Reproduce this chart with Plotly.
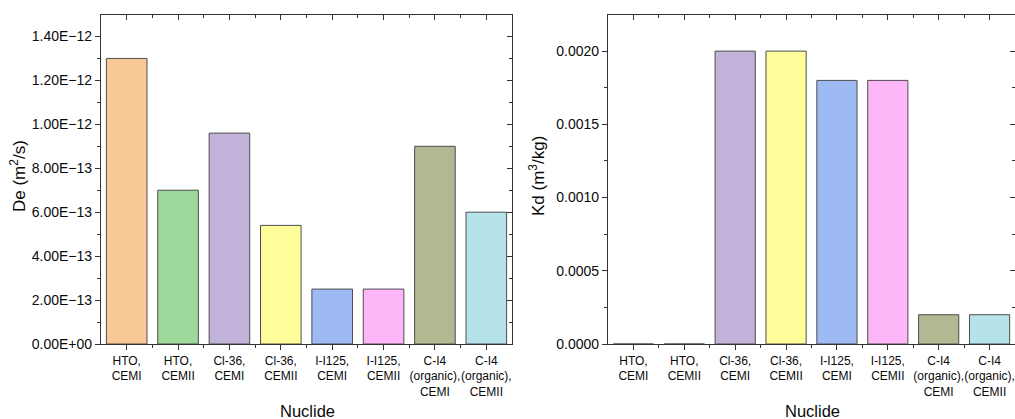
import plotly.graph_objects as go

categories = ["HTO,<br>CEMI", "HTO,<br>CEMII", "Cl-36,<br>CEMI", "Cl-36,<br>CEMII",
              "I-I125,<br>CEMI", "I-I125,<br>CEMII", "C-I4<br>(organic),<br>CEMI",
              "C-I4<br>(organic),<br>CEMII"]
de_values = [1.30e-12, 0.70e-12, 0.96e-12, 0.54e-12, 0.25e-12, 0.25e-12, 0.90e-12, 0.60e-12]
kd_values = [0.0, 0.0, 0.0020, 0.0020, 0.0018, 0.0018, 0.0002, 0.0002]
bar_colors = ["#F9C897", "#9ED89B", "#C1B2D9", "#FFFD99", "#9DBBF2", "#FDB7F8", "#B3B792", "#B5E3E9"]

de_tickvals = [0, 2e-13, 4e-13, 6e-13, 8e-13, 1e-12, 1.2e-12, 1.4e-12]
de_ticktext = ["0.00E+00", "2.00E\u221213", "4.00E\u221213", "6.00E\u221213", "8.00E\u221213",
               "1.00E\u221212", "1.20E\u221212", "1.40E\u221212"]
de_minor = [1e-13, 3e-13, 5e-13, 7e-13, 9e-13, 1.1e-12, 1.3e-12]
kd_tickvals = [0, 0.0005, 0.0010, 0.0015, 0.0020]
kd_ticktext = ["0.0000", "0.0005", "0.0010", "0.0015", "0.0020"]
kd_minor = [0.00025, 0.00075, 0.00125, 0.00175]

idx = list(range(len(categories)))
x_minor = [i + 0.5 for i in range(len(categories) - 1)]

W, H = 1015, 419
font_family = "Liberation Sans, Arial, sans-serif"
line_col = "#333333"
bar_line = "#4d4d4d"
txt = "#0a0a0a"

fig = go.Figure()
fig.add_trace(go.Bar(x=idx, y=de_values, marker=dict(color=bar_colors, line=dict(color=bar_line, width=1)),
                     width=0.79, xaxis="x", yaxis="y", showlegend=False))
fig.add_trace(go.Bar(x=idx, y=kd_values, marker=dict(color=bar_colors, line=dict(color=bar_line, width=1)),
                     width=0.79, xaxis="x2", yaxis="y2", showlegend=False))
fig.add_trace(go.Scatter(x=[None], y=[None], xaxis="x3", yaxis="y3", showlegend=False, hoverinfo="skip"))
fig.add_trace(go.Scatter(x=[None], y=[None], xaxis="x4", yaxis="y4", showlegend=False, hoverinfo="skip"))

ydom = [(H - 344) / H, (H - 14.5) / H]
xdom1 = [101 / W, 512 / W]
xdom2 = [608 / W, 1.0]
xr = [-0.5, 7.5]
de_range = [0, 1.5e-12]
kd_range = [0, 0.00225]

def xaxis_main(dom, anchor):
    return dict(domain=dom, anchor=anchor, range=xr, tickmode="array", tickvals=idx, ticktext=categories,
                ticks="outside", ticklen=5, tickwidth=1.2, tickcolor=line_col, automargin=False,
                tickangle=0, ticklabeloverflow="allow",
                showline=True, linecolor=line_col, linewidth=1.3, showgrid=False, zeroline=False,
                tickfont=dict(size=12, color=txt, family=font_family),
                minor=dict(tickmode="array", tickvals=x_minor, ticks="outside", ticklen=3,
                           tickwidth=1.2, tickcolor=line_col, showgrid=False),
                fixedrange=True)

def xaxis_top(over, anchor):
    return dict(overlaying=over, anchor=anchor, side="top", range=xr, tickmode="array", tickvals=idx,
                ticks="inside", ticklen=5, tickwidth=1.2, tickcolor=line_col, showticklabels=False,
                automargin=False,
                showline=True, linecolor=line_col, linewidth=1.3, showgrid=False, zeroline=False,
                minor=dict(tickmode="array", tickvals=x_minor, ticks="inside", ticklen=3,
                           tickwidth=1.2, tickcolor=line_col, showgrid=False),
                fixedrange=True)

def yaxis_main(anchor, rng, tv, tt, mn):
    return dict(domain=ydom, anchor=anchor, range=rng, tickmode="array", tickvals=tv, ticktext=tt,
                ticks="outside", ticklen=5, tickwidth=1.2, tickcolor=line_col, automargin=False,
                ticklabeloverflow="allow",
                showline=True, linecolor=line_col, linewidth=1.3, showgrid=False, zeroline=False,
                tickfont=dict(size=14, color=txt, family=font_family),
                minor=dict(tickmode="array", tickvals=mn, ticks="outside", ticklen=3,
                           tickwidth=1.2, tickcolor=line_col, showgrid=False),
                fixedrange=True)

def yaxis_right(over, anchor, rng, tv, mn):
    return dict(overlaying=over, anchor=anchor, side="right", range=rng, tickmode="array", tickvals=tv,
                ticks="inside", ticklen=5, tickwidth=1.2, tickcolor=line_col, showticklabels=False,
                automargin=False,
                showline=True, linecolor=line_col, linewidth=1.3, showgrid=False, zeroline=False,
                minor=dict(tickmode="array", tickvals=mn, ticks="inside", ticklen=3,
                           tickwidth=1.2, tickcolor=line_col, showgrid=False),
                fixedrange=True)

fig.update_layout(
    width=W, height=H, margin=dict(l=0, r=0, t=0, b=0, autoexpand=False),
    paper_bgcolor="white", plot_bgcolor="white",
    font=dict(family=font_family, color=txt),
    bargap=0.2,
    xaxis=xaxis_main(xdom1, "y"),
    yaxis=yaxis_main("x", de_range, de_tickvals, de_ticktext, de_minor),
    xaxis2=xaxis_main(xdom2, "y2"),
    yaxis2=yaxis_main("x2", kd_range, kd_tickvals, kd_ticktext, kd_minor),
    xaxis3=xaxis_top("x", "y3"),
    yaxis3=yaxis_right("y", "x3", de_range, de_tickvals, de_minor),
    xaxis4=xaxis_top("x2", "y4"),
    yaxis4=yaxis_right("y2", "x4", kd_range, kd_tickvals, kd_minor),
    annotations=[
        dict(text="De (m<sup>2</sup>/s)", x=18 / W, y=(H - 176) / H, xref="paper", yref="paper",
             textangle=-90, showarrow=False, font=dict(size=17, color=txt),
             xanchor="center", yanchor="middle"),
        dict(text="Kd (m<sup>3</sup>/kg)", x=537 / W, y=(H - 176) / H, xref="paper", yref="paper",
             textangle=-90, showarrow=False, font=dict(size=17, color=txt),
             xanchor="center", yanchor="middle"),
        dict(text="Nuclide", x=307 / W, y=(H - 411) / H, xref="paper", yref="paper",
             showarrow=False, font=dict(size=16.5, color=txt), xanchor="center", yanchor="middle"),
        dict(text="Nuclide", x=812 / W, y=(H - 411) / H, xref="paper", yref="paper",
             showarrow=False, font=dict(size=16.5, color=txt), xanchor="center", yanchor="middle"),
    ],
)

fig.write_html("out.html")
